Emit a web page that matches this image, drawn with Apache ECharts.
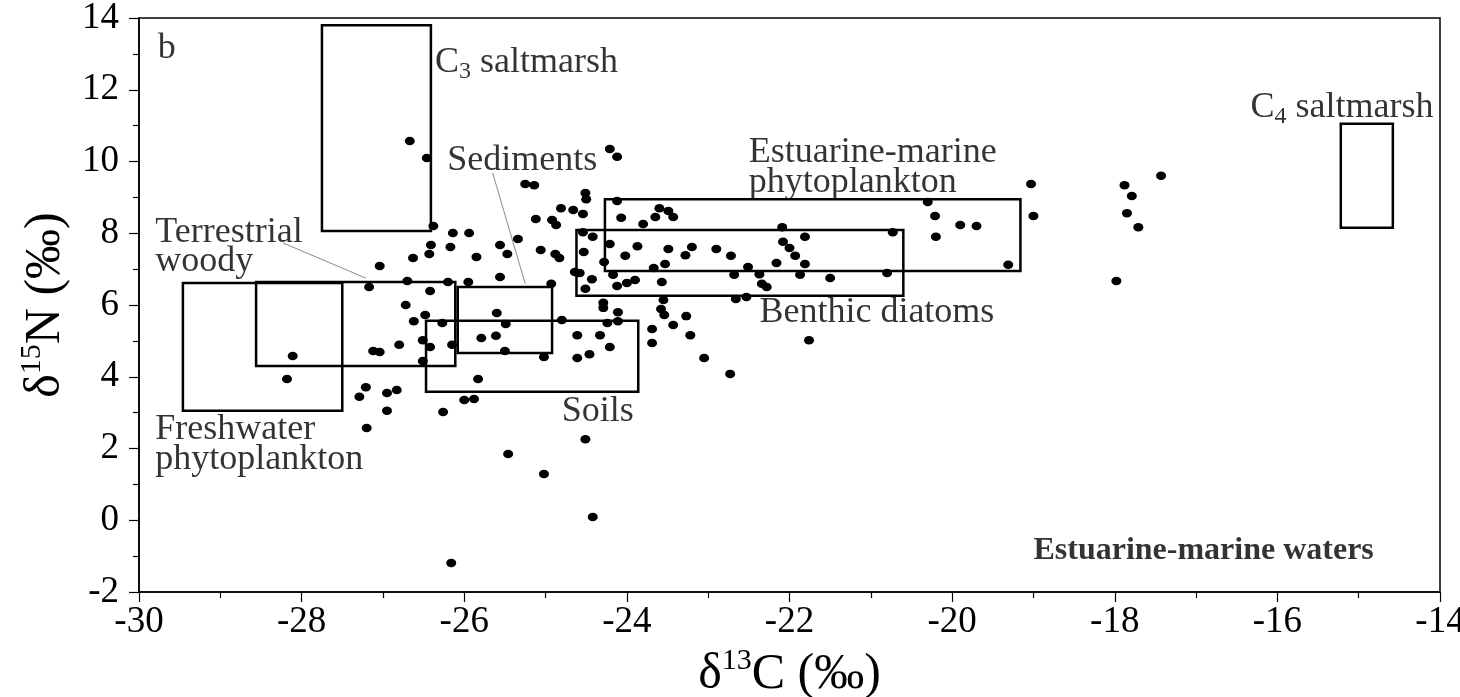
<!DOCTYPE html>
<html>
<head>
<meta charset="utf-8">
<script src="https://cdn.jsdelivr.net/npm/echarts@6/dist/echarts.min.js"></script>
<style>
html,body{margin:0;padding:0;background:#fff;}
#main{width:1460px;height:697px;}
</style>
</head>
<body>
<div id="main"></div>
<script>
// d13C / d15N of each sample, same order
var carbon = [-26.67,-26.46,-26.38,-26.14,-25.94,-25.25,-25.14,-25.34,-26.41,-26.17,
  -25.56,-25.47,-26.43,-26.63,-25.85,-27.04,-27.17,-26.70,-26.42,-26.20,
  -25.95,-25.56,-26.72,-26.48,-26.62,-26.27,-25.60,-25.49,-25.79,-25.61,
  -25.50,-26.51,-26.42,-26.15,-26.80,-27.12,-27.04,-26.51,-28.11,-28.18,
  -25.83,-27.21,-27.29,-26.95,-26.83,-26.00,-25.88,-26.95,-26.26,-27.20,
  -25.02,-24.80,-24.61,-24.33,-24.21,-24.61,-24.46,-24.24,-24.11,-23.69,
  -23.69,-23.43,-23.22,-23.05,-24.51,-25.46,-25.02,-24.42,-26.16,-24.21,
  -24.12,-24.51,-24.50,-24.12,-24.81,-24.66,-24.54,-25.12,-24.92,-24.87,
  -24.07,-23.80,-23.65,-23.60,-23.49,-23.43,-25.06,-24.88,-24.83,-24.54,
  -24.42,-24.53,-24.21,-23.87,-24.02,-23.49,-23.28,-23.20,-22.90,-22.72,
  -22.51,-24.28,-23.53,-23.67,-24.64,-24.58,-24.17,-22.68,-24.43,-24.51,
  -24.12,-24.00,-23.90,-23.57,-24.93,-24.29,-24.29,-24.11,-23.55,-23.58,
  -23.54,-23.27,-22.09,-21.81,-22.08,-22.00,-21.93,-21.81,-22.16,-22.37,
  -21.87,-21.50,-22.34,-22.28,-22.66,-22.53,-21.76,-22.73,-20.73,-20.80,
  -20.30,-20.21,-19.90,-19.70,-20.20,-19.31,-19.03,-19.00,-17.88,-17.79,
  -17.85,-17.71,-17.98,-17.43];
var nitrogen = [10.57,10.10,8.20,8.01,8.01,9.37,9.34,7.84,7.67,7.62,
  7.67,7.42,7.42,7.31,7.34,7.09,6.50,6.67,6.39,6.64,
  6.64,6.78,6.00,5.72,5.55,5.50,5.78,5.47,5.08,5.14,
  4.72,5.02,4.83,4.89,4.89,4.72,4.69,4.44,4.58,3.94,
  3.94,3.71,3.44,3.55,3.63,3.35,3.38,3.05,3.02,2.57,
  4.55,5.58,5.16,5.16,4.83,4.52,4.63,5.50,5.55,5.33,
  4.94,5.44,5.16,4.52,2.26,1.85,1.29,0.09,-1.19,10.35,
  10.13,9.12,8.95,8.90,8.70,8.65,8.54,8.40,8.37,8.23,
  8.43,8.26,8.45,8.70,8.62,8.45,7.53,7.42,7.31,8.03,
  7.90,7.48,7.70,7.64,7.37,7.56,7.39,7.62,7.56,7.37,
  7.06,7.20,7.14,7.03,6.92,6.89,6.84,6.84,6.72,6.45,
  6.53,6.61,6.70,6.64,6.59,6.06,5.92,5.80,6.14,5.89,
  5.72,5.69,8.17,7.90,7.76,7.59,7.37,7.14,7.17,6.86,
  6.84,6.75,6.59,6.50,6.17,6.22,5.02,4.08,8.03,6.89,
  8.87,8.48,8.23,8.20,7.90,7.12,9.37,8.48,9.34,9.04,
  8.56,8.17,6.67,9.60];

// source end-member boxes: [C min, C max, N min, N max]
var boxNames = ['C3 saltmarsh', 'C4 saltmarsh', 'Estuarine-marine phytoplankton', 'Benthic diatoms',
  'Sediments', 'Soils', 'Terrestrial woody', 'Freshwater phytoplankton'];
var boxes = [
  [-27.75, -26.41, 8.06, 13.80],
  [-15.22, -14.58, 8.15, 11.05],
  [-24.27, -19.16, 6.95, 8.95],
  [-24.62, -20.60, 6.26, 8.09],
  [-26.08, -24.92, 4.66, 6.50],
  [-26.47, -23.86, 3.58, 5.56],
  [-28.56, -26.11, 4.30, 6.64],
  [-29.46, -27.50, 3.05, 6.61]
];
// thin pointer lines: [C1, N1, C2, N2]
var leaders = [
  [-28.23, 7.73, -27.21, 6.75],
  [-25.65, 9.68, -25.25, 6.59]
];
// text notes: [C, N, text]
var notes = [
  [-29.77, 13.14, '{b|b}'],
  [-26.36, 12.75, '{r|C}{sub|3}{r| saltmarsh}'],
  [-16.33, 11.49, '{r|C}{sub|4}{r| saltmarsh}'],
  [-26.21, 10.03, '{r|Sediments}'],
  [-22.50, 10.24, '{r|Estuarine-marine}'],
  [-22.50, 9.40, '{r|phytoplankton}'],
  [-29.80, 8.03, '{r|Terrestrial}'],
  [-29.80, 7.20, '{r|woody}'],
  [-22.37, 5.80, '{r|Benthic diatoms}'],
  [-24.80, 3.04, '{r|Soils}'],
  [-29.80, 2.52, '{r|Freshwater}'],
  [-29.80, 1.68, '{r|phytoplankton}'],
  [-19.00, -0.86, '{bold|Estuarine-marine waters}']
];

var serif = "'Liberation Serif', 'DejaVu Serif', serif";
var samples = carbon.map(function (c, i) { return [c, nitrogen[i]]; });

var nameRich = {
  a: { fontFamily: serif, fontSize: 50, lineHeight: 58, color: '#000' },
  sup: { fontFamily: serif, fontSize: 30, lineHeight: 30, verticalAlign: 'top', color: '#000' }
};

var myChart = echarts.init(document.getElementById('main'));
var option = {
  backgroundColor: '#fff',
  animation: false,
  grid: {
    left: 139, right: 20, top: 18, bottom: 105,
    outerBoundsMode: 'none',
    show: true, borderColor: '#000', borderWidth: 1.5
  },
  xAxis: {
    type: 'value', min: -30, max: -14, interval: 2,
    axisLine: { show: true, onZero: false, lineStyle: { color: '#000', width: 1.5 } },
    axisTick: { length: 10, lineStyle: { color: '#000', width: 1.2 } },
    minorTick: { show: true, splitNumber: 2, length: 6, lineStyle: { color: '#000', width: 1.2 } },
    splitLine: { show: false },
    axisLabel: { fontFamily: serif, fontSize: 37, color: '#000', margin: 12 },
    name: '{a|δ}{sup|13}{a|C (‰)}',
    nameLocation: 'middle', nameGap: 50,
    nameTextStyle: { rich: nameRich }
  },
  yAxis: {
    type: 'value', min: -2, max: 14, interval: 2,
    axisLine: { show: true, onZero: false, lineStyle: { color: '#000', width: 1.5 } },
    axisTick: { length: 10, lineStyle: { color: '#000', width: 1.2 } },
    minorTick: { show: true, splitNumber: 2, length: 6, lineStyle: { color: '#000', width: 1.2 } },
    splitLine: { show: false },
    axisLabel: { fontFamily: serif, fontSize: 37, color: '#000', margin: 20 },
    name: '{a|δ}{sup|15}{a|N (‰)}',
    nameLocation: 'middle', nameGap: 64, nameRotate: 90,
    nameTextStyle: { rich: nameRich }
  },
  series: [
    {
      name: 'boxes',
      type: 'custom',
      silent: true,
      z: 3,
      renderItem: function (params, api) {
        var p1 = api.coord([api.value(0), api.value(3)]);
        var p2 = api.coord([api.value(1), api.value(2)]);
        return {
          type: 'rect',
          shape: { x: p1[0], y: p1[1], width: p2[0] - p1[0], height: p2[1] - p1[1] },
          style: { fill: 'none', stroke: '#000', lineWidth: 2.5 }
        };
      },
      data: boxes.map(function (b, i) { return { name: boxNames[i], value: b }; })
    },
    {
      name: 'leaders',
      type: 'custom',
      silent: true,
      z: 2,
      renderItem: function (params, api) {
        var p1 = api.coord([api.value(0), api.value(1)]);
        var p2 = api.coord([api.value(2), api.value(3)]);
        return {
          type: 'line',
          shape: { x1: p1[0], y1: p1[1], x2: p2[0], y2: p2[1] },
          style: { stroke: '#8a8a8a', lineWidth: 1 }
        };
      },
      data: leaders
    },
    {
      name: 'samples',
      type: 'scatter',
      z: 5,
      symbol: 'circle',
      symbolSize: [10, 8.5],
      itemStyle: { color: '#000', opacity: 1 },
      data: samples
    },
    {
      name: 'notes',
      type: 'scatter',
      silent: true,
      z: 6,
      symbolSize: 0,
      label: {
        show: true,
        position: [0, 0],
        align: 'left',
        verticalAlign: 'middle',
        formatter: function (p) { return p.data.name; },
        rich: {
          r: { fontFamily: serif, fontSize: 36, lineHeight: 42, color: '#000' },
          sub: { fontFamily: serif, fontSize: 24, lineHeight: 24, verticalAlign: 'bottom', color: '#000' },
          b: { fontFamily: serif, fontSize: 36, lineHeight: 42, color: '#000' },
          bold: { fontFamily: serif, fontSize: 32, fontWeight: 'bold', lineHeight: 40, color: '#000' }
        }
      },
      data: notes.map(function (n) { return { name: n[2], value: [n[0], n[1]] }; })
    }
  ]
};

option && myChart.setOption(option);
</script>
</body>
</html>
